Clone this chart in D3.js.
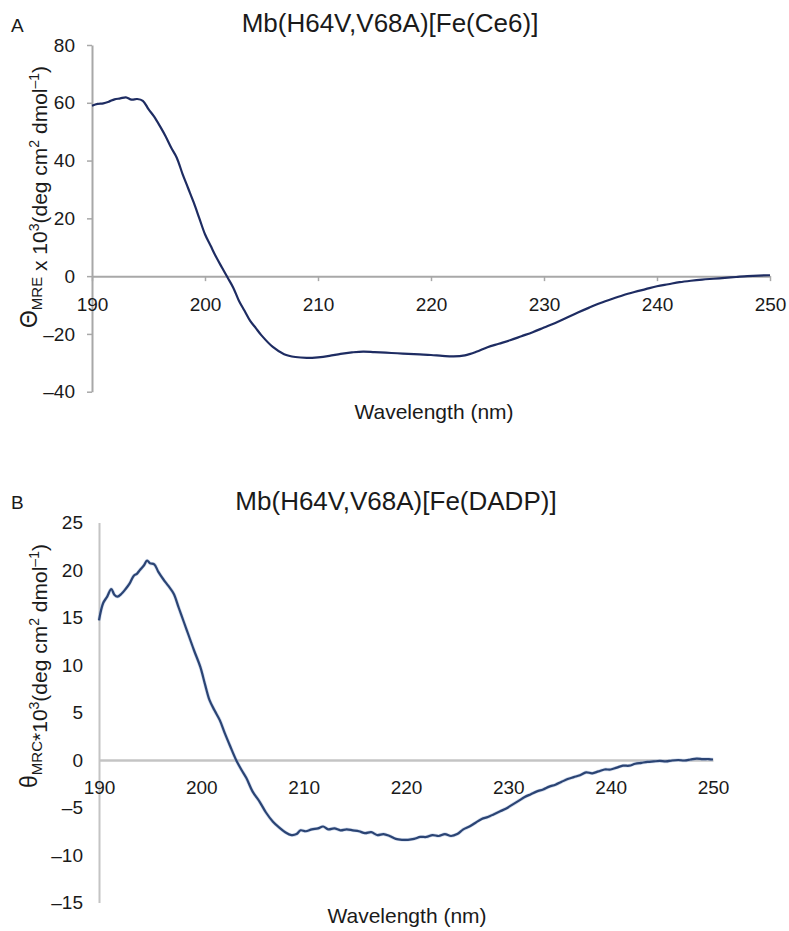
<!DOCTYPE html>
<html>
<head>
<meta charset="utf-8">
<script src="https://cdn.jsdelivr.net/npm/d3@7"></script>
<style>
  html, body { margin: 0; padding: 0; background: #fff; }
  svg { display: block; font-family: "Liberation Sans", Arial, sans-serif; }
</style>
</head>
<body>
<svg id="chart" width="789" height="931"></svg>
<script>
// ---------- Data ----------
const wavelengthTicks = [190, 200, 210, 220, 230, 240, 250];
const yTicksA = [-40, -20, 0, 20, 40, 60, 80];
const yTicksB = [-15, -10, -5, 0, 5, 10, 15, 20, 25];

const titleA = "Mb(H64V,V68A)[Fe(Ce6)]";
const titleB = "Mb(H64V,V68A)[Fe(DADP)]";

// Panel A: Mb(H64V,V68A)[Fe(Ce6)]
const wlA = [190,190.5,191,191.5,192,192.5,193,193.5,194,194.5,195,195.5,196,196.5,197,197.5,198,198.5,199,199.5,
  200,200.5,201,201.5,202,202.5,203,203.5,204,204.5,205,206,207,208,209,210,211,212,213,214,215,216,217,218,219,220,
  221,222,223,224,225,226,227,228,229,230,231,232,233,234,235,236,237,238,239,240,241,242,243,244,245,246,247,248,249,250];
const cdA = [59,59.6,59.8,60.4,61.2,61.5,61.9,61.1,61.3,60.7,57.8,55.2,52,48.5,44.5,41,35.5,30.5,25.5,20,
  14.5,10.5,6.5,3,-0.5,-4,-8.5,-12,-15.5,-18,-20.5,-24.5,-27,-28,-28.3,-28.1,-27.6,-26.9,-26.4,-26.1,-26.3,-26.5,-26.7,-26.9,-27.1,-27.3,
  -27.6,-27.8,-27.4,-26.2,-24.6,-23.4,-22.2,-20.8,-19.4,-17.8,-16.2,-14.4,-12.6,-10.9,-9.3,-7.9,-6.6,-5.5,-4.5,-3.5,-2.8,-2.1,-1.6,-1.2,-0.9,-0.6,-0.3,0,0.2,0.3];

// Panel B: Mb(H64V,V68A)[Fe(DADP)]
const wlB = [190,190.4,190.8,191.2,191.5,191.8,192.2,192.6,193,193.4,193.7,194,194.4,194.7,195,195.4,195.8,196.3,196.8,197.3,
  197.8,198.3,198.8,199.3,199.9,200.4,200.8,201.3,201.8,202.3,202.8,203.4,203.9,204.4,205,205.7,206.3,207,207.6,208.2,
  208.8,209.3,209.7,210.2,210.8,211.4,211.9,212.4,213,213.6,214.2,214.8,215.4,216,216.6,217.2,217.8,218.4,219,219.6,
  220.2,220.8,221.4,222,222.6,223.2,223.8,224.4,225,225.6,226.2,226.8,227.4,228,228.6,229.2,229.8,230.4,231,231.6,
  232.2,232.8,233.4,234,234.6,235.2,235.8,236.4,237,237.6,238.2,238.8,239.4,240,240.6,241.2,241.8,242.4,243,243.6,
  244.2,244.8,245.4,246,246.6,247.2,247.8,248.4,249,249.6,250];
const cdB = [14.7,16.5,17.2,18.0,17.4,17.2,17.5,18.0,18.6,19.4,19.6,20.0,20.5,21.0,20.7,20.6,19.8,19.0,18.3,17.5,
  16.0,14.5,13.0,11.5,9.8,7.8,6.3,5.2,4.2,2.8,1.5,0,-1.0,-1.9,-3.3,-4.4,-5.5,-6.5,-7.1,-7.6,
  -7.9,-7.8,-7.4,-7.5,-7.3,-7.2,-7.0,-7.3,-7.2,-7.4,-7.3,-7.4,-7.5,-7.7,-7.6,-7.9,-7.8,-8.0,-8.3,-8.4,
  -8.4,-8.3,-8.1,-8.1,-7.9,-8.0,-7.8,-8.0,-7.8,-7.3,-7.0,-6.6,-6.2,-6.0,-5.7,-5.4,-5.1,-4.7,-4.3,-3.9,
  -3.6,-3.3,-3.1,-2.8,-2.6,-2.3,-2.0,-1.8,-1.6,-1.3,-1.4,-1.2,-1.0,-1.0,-0.8,-0.6,-0.6,-0.4,-0.3,-0.2,
  -0.15,-0.1,-0.15,-0.05,0,-0.05,0.05,0.15,0.1,0.1,0.05];

// ---------- Drawing ----------
const svg = d3.select("#chart");
const fmt = d => (d < 0 ? "\u2013" + Math.abs(d) : String(d));
const FONT = "Liberation Sans, Arial, sans-serif";

function panel(cfg) {
  const x = d3.scaleLinear().domain([190, 250]).range(cfg.xRange);
  const y = d3.scaleLinear().domain(cfg.yDomain).range(cfg.yRange);
  const g = svg.append("g");

  // y axis
  const ya = g.append("g").attr("transform", `translate(${x(190)},0)`)
    .call(d3.axisLeft(y).tickValues(cfg.yTicks).tickFormat(fmt)
      .tickSize(cfg.yTickSize).tickSizeOuter(0).tickPadding(cfg.yPad));
  ya.select(".domain").attr("stroke", cfg.axisColor).attr("stroke-width", cfg.yAxisWidth);
  ya.selectAll(".tick line").attr("stroke", cfg.axisColor).attr("stroke-width", 1.5);
  ya.selectAll(".tick text").attr("font-size", 19).attr("fill", "#1a1a1a").attr("font-family", FONT);

  // x axis at zero
  const xa = g.append("g").attr("transform", `translate(0,${y(0)})`)
    .call(d3.axisBottom(x).tickValues(wavelengthTicks)
      .tickSize(cfg.xTickSize).tickSizeOuter(0).tickPadding(cfg.xPad));
  xa.select(".domain").attr("stroke", cfg.axisColor).attr("stroke-width", cfg.xAxisWidth);
  xa.selectAll(".tick line").attr("stroke", cfg.axisColor).attr("stroke-width", 1.5);
  xa.selectAll(".tick text").attr("font-size", 19).attr("fill", "#1a1a1a").attr("font-family", FONT);

  // curve
  const pts = cfg.wl.map((w, i) => [w, cfg.cd[i]]);
  const line = d3.line().x(d => x(d[0])).y(d => y(d[1])).curve(d3.curveCatmullRom.alpha(0.5));
  if (cfg.halo) {
    g.append("path").datum(pts).attr("d", line).attr("fill", "none")
      .attr("stroke", cfg.halo).attr("stroke-width", 3.6).attr("stroke-opacity", 0.45);
  }
  g.append("path").datum(pts).attr("d", line).attr("fill", "none")
    .attr("stroke", cfg.lineColor).attr("stroke-width", 2.2).attr("stroke-linejoin", "round");

  // panel letter
  svg.append("text").attr("x", 11).attr("y", cfg.letterY).attr("font-size", 19)
    .attr("fill", "#1a1a1a").text(cfg.letter);

  // title
  svg.append("text").attr("x", cfg.titleX).attr("y", cfg.titleY).attr("text-anchor", "middle")
    .attr("font-size", 26).attr("fill", "#1a1a1a").text(cfg.title);

  // x axis title
  svg.append("text").attr("x", cfg.xTitleX).attr("y", cfg.xTitleY).attr("text-anchor", "middle")
    .attr("font-size", 21).attr("fill", "#1a1a1a").text("Wavelength (nm)");

  // y axis title
  const yt = svg.append("text")
    .attr("transform", `translate(${cfg.yTitleX},${cfg.yTitleY}) rotate(-90)`)
    .attr("text-anchor", "middle").attr("font-size", 21).attr("fill", "#1a1a1a");
  cfg.yTitleParts.forEach(p => {
    const t = yt.append("tspan").text(p.t);
    if (p.s === "sub") t.attr("font-size", 15).attr("dy", 5);
    else if (p.s === "sup") t.attr("font-size", 14).attr("dy", -8);
    if (p.big) t.attr("font-size", 23);
    if (p.dy) t.attr("dy", p.dy);
  });
}

panel({
  xRange: [92, 770], yDomain: [-40, 80], yRange: [391.7, 45], yTicks: yTicksA,
  yTickSize: 5, yPad: 12, xTickSize: 5, xPad: 16,
  axisColor: "#a8a8a8", yAxisWidth: 2, xAxisWidth: 2,
  wl: wlA, cd: cdA, lineColor: "#1e2c62", halo: null,
  letter: "A", letterY: 32, title: titleA, titleX: 390, titleY: 32,
  xTitleX: 434, xTitleY: 419, yTitleX: 37, yTitleY: 197,
  yTitleParts: [
    {t: "\u0398", big: true}, {t: "MRE", s: "sub"}, {t: " x 10", dy: 5}, {t: "3", s: "sup"},
    {t: "(deg cm", dy: 8}, {t: "2", s: "sup"}, {t: " dmol", dy: 8}, {t: "\u20131", s: "sup"}, {t: ")", dy: 8}
  ]
});

panel({
  xRange: [99, 713], yDomain: [-15, 25], yRange: [902.5, 522.5], yTicks: yTicksB,
  yTickSize: 0, yPad: 16, xTickSize: 0, xPad: 21,
  axisColor: "#c4c4c4", yAxisWidth: 2, xAxisWidth: 2.6,
  wl: wlB, cd: cdB, lineColor: "#2b4474", halo: "#9fb6dc",
  letter: "B", letterY: 509, title: titleB, titleX: 396, titleY: 510,
  xTitleX: 407, xTitleY: 923, yTitleX: 37, yTitleY: 666,
  yTitleParts: [
    {t: "\u03b8", big: true}, {t: "MRC", s: "sub"}, {t: "*10", dy: 5}, {t: "3", s: "sup"},
    {t: "(deg cm", dy: 8}, {t: "2", s: "sup"}, {t: " dmol", dy: 8}, {t: "\u20131", s: "sup"}, {t: ")", dy: 8}
  ]
});
</script>
</body>
</html>
